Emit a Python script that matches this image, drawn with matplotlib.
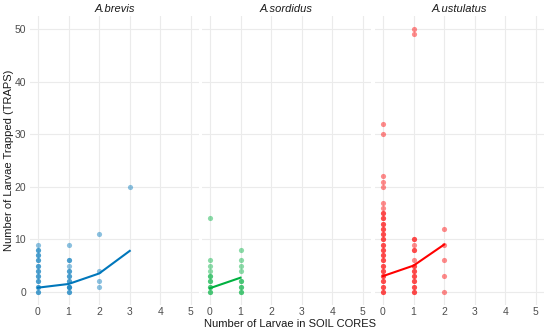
import matplotlib
matplotlib.use("Agg")
import matplotlib.pyplot as plt
import numpy as np

plt.rcParams['font.family'] = ['Liberation Sans', 'DejaVu Sans']

species = ["A.brevis", "A.sordidus", "A.ustulatus"]
colors = ["#0077BB", "#00B140", "#FF0000"]

# scatter points (x = larvae in soil cores, y = larvae trapped)
brevis_x = [0]*10 + [0]*9 + [1]*8 + [1]*5 + [1] + [1] + [2, 2, 2, 2, 3]
brevis_y = list(range(0, 10)) + list(range(0, 9)) + [0, 1, 2, 3, 4, 5, 6, 9] + [0, 1, 2, 3, 6] + [4] + [1] + [11, 4, 2, 1, 20]

sordidus_x = [0]*8 + [0]*4 + [1]*7 + [1]*3
sordidus_y = [0, 1, 2, 3, 4, 5, 6, 14] + [0, 1, 2, 3] + [0, 1, 2, 4, 5, 6, 8] + [0, 1, 2]

ustulatus_x = [0]*23 + [0]*16 + [1]*12 + [1]*8 + [2]*5
ustulatus_y = ([0, 1, 2, 3, 4, 5, 6, 7, 8, 9, 10, 11, 12, 13, 14, 15, 16, 17, 20, 21, 22, 30, 32]
               + [0, 1, 2, 3, 4, 5, 6, 7, 8, 9, 10, 11, 12, 13, 14, 15]
               + [0, 1, 2, 3, 4, 5, 6, 8, 9, 10, 49, 50]
               + [0, 1, 2, 3, 4, 5, 8, 10]
               + [0, 3, 6, 9, 12])

# fitted lines
brevis_lx = [0, 1, 2, 3]
brevis_ly = [0.8, 1.5, 3.5, 7.8]
sordidus_lx = [0, 1]
sordidus_ly = [0.7, 2.7]
ustulatus_lx = [0, 1, 2]
ustulatus_ly = [3.0, 5.0, 9.0]

pts = [(brevis_x, brevis_y), (sordidus_x, sordidus_y), (ustulatus_x, ustulatus_y)]
lines = [(brevis_lx, brevis_ly), (sordidus_lx, sordidus_ly), (ustulatus_lx, ustulatus_ly)]

xticks = [0, 1, 2, 3, 4, 5]
yticks = [0, 10, 20, 30, 40, 50]

fig = plt.figure(figsize=(5.5, 3.32), dpi=100)
lefts_px = [30.3, 202.3, 375.3]
W, H = 550, 332
axes = []
for i, sp in enumerate(species):
    ax = fig.add_axes([lefts_px[i]/W, (332-305)/H, 168.3/W, 289/H])
    axes.append(ax)
    x, y = pts[i]
    ax.scatter(x, y, s=14, color=colors[i], alpha=0.45, linewidths=0, zorder=3)
    lx, ly = lines[i]
    ax.plot(lx, ly, color=colors[i], lw=1.5, zorder=4)
    ax.set_xlim(-0.25, 5.25)
    ax.set_ylim(-2.5, 52.5)
    ax.set_xticks(xticks)
    ax.set_yticks(yticks)
    ax.grid(True, color="#EBEBEB", lw=0.8, zorder=0)
    ax.set_axisbelow(True)
    for s in ax.spines.values():
        s.set_visible(False)
    ax.tick_params(length=0, labelsize=7.5, labelcolor="#4D4D4D")
    ax.tick_params(axis="x", pad=1.5)
    ax.tick_params(axis="y", pad=3)
    if i > 0:
        ax.tick_params(labelleft=False)
    ax.set_title(sp, fontsize=8, style="italic", color="#1A1A1A", pad=3)

fig.text(9/W, 1 - 160/H, "Number of Larvae Trapped (TRAPS)", rotation=90,
         ha="center", va="center", fontsize=8, color="#1A1A1A")
fig.text(290/W, 1 - 324/H, "Number of Larvae in SOIL CORES", ha="center", va="center",
         fontsize=8, color="#1A1A1A")

fig.savefig("out.png", dpi=100, facecolor="white")
